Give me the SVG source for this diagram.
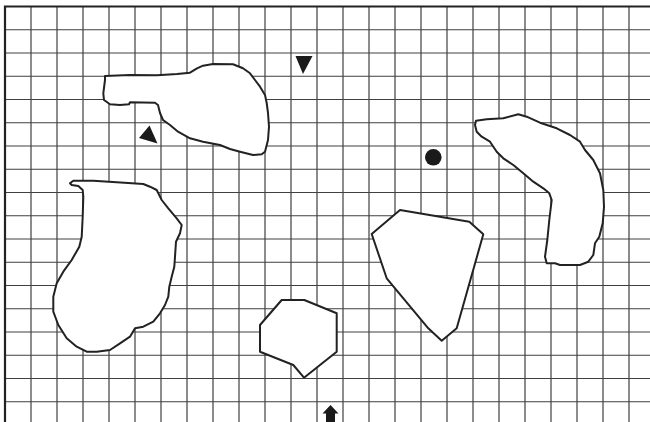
<svg xmlns="http://www.w3.org/2000/svg" width="650" height="422" viewBox="0 0 650 422">
<style>
.g{stroke:#404040;stroke-width:1.2;fill:none}
.b{stroke:#222;stroke-width:2.2;fill:none}
.s{fill:#fff;stroke:#222;stroke-width:2;stroke-linejoin:round}
.m{fill:#1a1a1a}
</style>
<rect width="650" height="422" fill="#fff"/>
<g id="grid" class="g">
<path d="M31 6.5V422M57 6.5V422M83 6.5V422M109 6.5V422M135 6.5V422M161 6.5V422M187 6.5V422M213 6.5V422M239 6.5V422M265 6.5V422M291 6.5V422M317 6.5V422M343 6.5V422M369 6.5V422M395 6.5V422M421 6.5V422M447 6.5V422M473 6.5V422M499 6.5V422M525 6.5V422M551 6.5V422M577 6.5V422M603 6.5V422M629 6.5V422"/>
<path d="M5 29.75H650M5 53H650M5 76.25H650M5 99.5H650M5 122.75H650M5 146H650M5 169.25H650M5 192.5H650M5 215.75H650M5 239H650M5 262.25H650M5 285.5H650M5 308.75H650M5 332H650M5 355.25H650M5 378.5H650M5 401.75H650"/>
</g>
<path class="b" d="M5 422V6.5H650"/>
<g id="drumstick">
<polygon class="s" points="105,76 130,75 157,75.3 177,74 190,72.7 197,68.3 203,65.7 213,64 233,64.3 243,68.3 250,73.3 255,80 260,86.7 265,95 266.7,103 268,113 269,126.7 268,140 265,151.7 261.7,154.3 253,155 240,151.7 230,149 220,145 203,141.7 190,138.3 178,131.7 170,125 163,120 160,113 158,105 155,102.7 130,102.3 129,104.3 120,105 110,104.3 104,100 103.3,93.3 105,80"/>
</g>
<g id="jug">
<polygon class="s" points="70,183.3 73.3,180.7 93.3,180.7 116.7,182.3 143.3,184 150,186.7 156.7,190 161.7,200 168.3,208.3 176.7,218.3 181.7,225 180,233.3 176,241.7 175,256.7 174.3,266.7 171.7,276.7 169.3,286.7 168.3,296.7 165,305 160,313.3 153.3,321.7 143.3,326.7 135,328.3 130,336.7 120,343.3 110,350 96.7,351.7 86.7,351.7 76.7,346.7 66.7,338.3 58.3,325 53.3,311.7 53.3,296.7 56.7,283.3 63.3,271.7 71.7,260 79.3,246.7 81.7,236.7 82.7,216.7 83.3,196.7 82.7,190 78.3,186 71.7,185"/>
</g>
<g id="octagon">
<polygon class="s" points="281.7,300 304.3,300 336.7,313.3 336.7,351.7 304,377.7 293.3,365 260,351.7 260,325"/>
</g>
<g id="pentagon">
<polygon class="s" points="400,210 469.3,221.7 483.3,234.3 456.7,328.3 441.7,340.7 428.3,328.3 386.7,278.3 371.7,234"/>
</g>
<g id="banana">
<polygon class="s" points="476,120.7 486.7,119.3 503.3,118.3 518.3,114.3 526.7,116.7 540,122.7 556.7,128.3 570,135 580,141.7 585,150 593.3,160 600,173.3 603.3,190 604,206.7 602.7,223.3 599.3,236.7 595,243.3 593.3,255 588.3,261.7 580,265 560,265 555,263.3 546.7,263.3 545,256.7 547.3,240 549.3,220 551.7,200 549.3,193.3 543.3,188.3 533.3,181.7 523.3,173.3 513.3,165 503.3,158.3 496.7,151.7 490,141.7 481.7,136.7 476.7,131.7 475,125"/>
</g>
<g id="markers">
<polygon id="tri-up" class="m" points="149.5,125.5 139,138 157.5,143.5"/>
<polygon id="tri-down" class="m" points="295.5,56 312.5,56 303,74"/>
<circle id="dot" class="m" cx="433.3" cy="157.3" r="8.3"/>
<polygon id="arrow" class="m" points="330.5,405 338.5,413.5 335,413.5 335,422 326,422 326,413.5 322.5,413.5"/>
</g>
</svg>
